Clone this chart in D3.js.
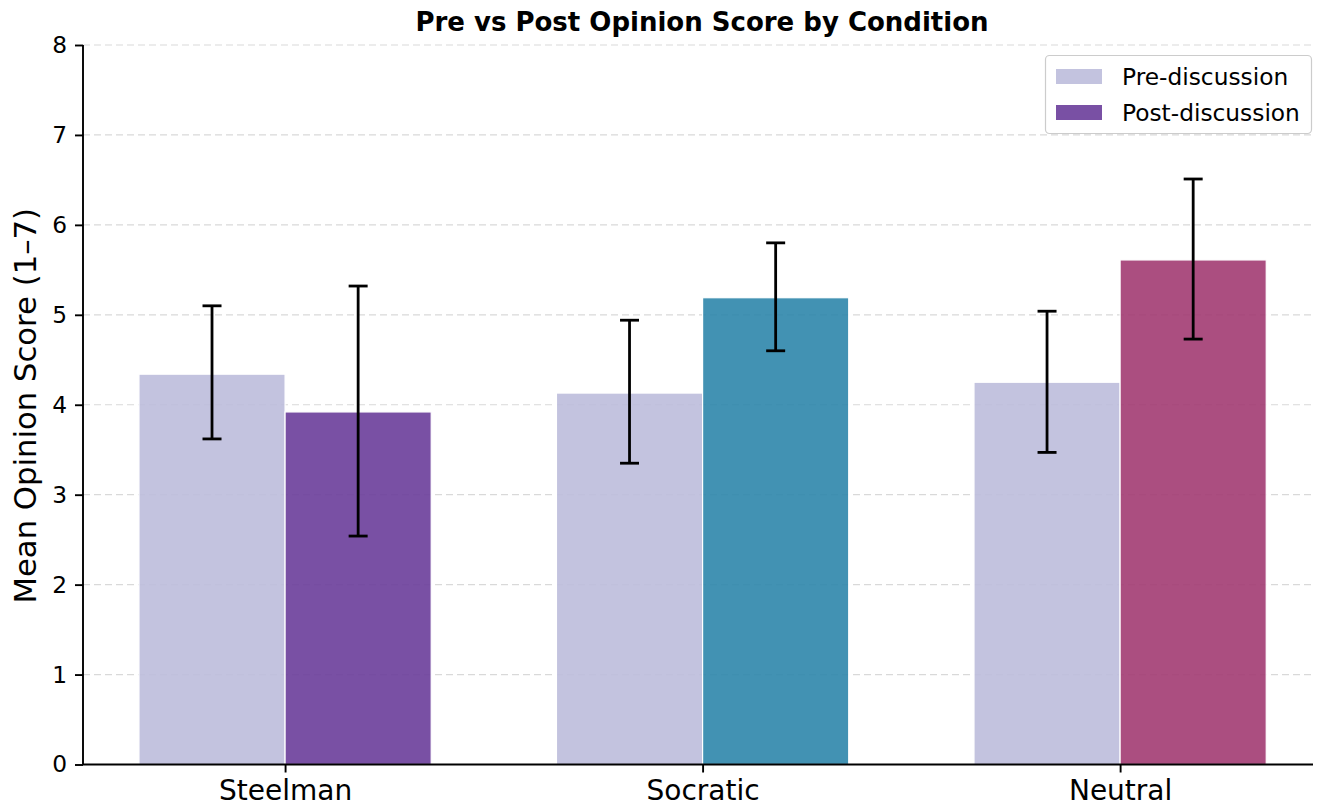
<!DOCTYPE html>
<html><head><meta charset="utf-8">
<script src="https://cdn.jsdelivr.net/npm/d3@7"></script>
<style>body{margin:0;background:#fff;} svg{display:block;font-family:"DejaVu Sans",sans-serif;}</style>
</head><body><svg id="c" width="1323" height="808"></svg>
<script>
const categories = ["Steelman", "Socratic", "Neutral"];
const preMeans = [4.34, 4.13, 4.25];
const preLow = [3.62, 3.35, 3.47];
const preHigh = [5.10, 4.94, 5.04];
const postMeans = [3.92, 5.19, 5.61];
const postLow = [2.54, 4.60, 4.73];
const postHigh = [5.32, 5.80, 6.51];
const postColors = ["#6a3d9a", "#2e86ab", "#a23b72"];
const preColor = "#bcbddc";
const yTicks = [0, 1, 2, 3, 4, 5, 6, 7, 8];
const seriesNames = ["Pre-discussion", "Post-discussion"];

const svg = d3.select("#c");
const L = 83, R = 1313, T = 45, B = 764.5;
const x = d3.scaleLinear().domain([-0.484, 2.462]).range([L, R]);
const y = d3.scaleLinear().domain([0, 8]).range([B, T]);
const bw = 0.35;

// grid
svg.append("g").selectAll("line").data(yTicks.slice(1)).join("line")
  .attr("x1", L).attr("x2", R).attr("y1", d => y(d)).attr("y2", d => y(d))
  .attr("stroke", "#d9d9d9").attr("stroke-width", 1.2).attr("stroke-dasharray", "7,4");

const bars = [];
categories.forEach((c, i) => {
  bars.push({x: i - bw/2, v: preMeans[i], lo: preLow[i], hi: preHigh[i], col: preColor});
  bars.push({x: i + bw/2, v: postMeans[i], lo: postLow[i], hi: postHigh[i], col: postColors[i]});
});

svg.append("g").selectAll("rect").data(bars).join("rect")
  .attr("x", d => x(d.x - bw/2)).attr("width", d => x(bw) - x(0))
  .attr("y", d => y(d.v)).attr("height", d => y(0) - y(d.v))
  .attr("fill", d => d.col).attr("fill-opacity", 0.9)
  .attr("stroke", "#fff").attr("stroke-width", 1.2);

// error bars
const eg = svg.append("g").attr("stroke", "#000").attr("stroke-width", 2.8);
bars.forEach(d => {
  const cx = x(d.x);
  eg.append("line").attr("x1", cx).attr("x2", cx).attr("y1", y(d.lo)).attr("y2", y(d.hi));
  eg.append("line").attr("x1", cx - 9.5).attr("x2", cx + 9.5).attr("y1", y(d.lo)).attr("y2", y(d.lo));
  eg.append("line").attr("x1", cx - 9.5).attr("x2", cx + 9.5).attr("y1", y(d.hi)).attr("y2", y(d.hi));
});

// axes
const ya = svg.append("g").attr("transform", `translate(${L},0)`)
  .call(d3.axisLeft(y).tickValues(yTicks).tickSize(8).tickPadding(8));
ya.select(".domain").attr("stroke-width", 1.9).attr("d", `M-0,${B}V${T}`);
ya.selectAll(".tick line").attr("stroke-width", 1.9);
ya.selectAll("text").attr("font-size", 23.3).attr("fill", "#000").attr("font-family", "DejaVu Sans");

const xa = svg.append("g").attr("transform", `translate(0,${B})`)
  .call(d3.axisBottom(x).tickValues([0, 1, 2]).tickFormat(i => categories[i]).tickSize(8).tickPadding(8));
xa.select(".domain").attr("stroke-width", 1.9).attr("d", `M${L},0H${R}`);
xa.selectAll(".tick line").attr("stroke-width", 1.9);
xa.selectAll("text").attr("font-size", 28).attr("fill", "#000").attr("font-family", "DejaVu Sans");

// title
svg.append("text").attr("x", (L + R) / 2 + 4).attr("y", 31).attr("text-anchor", "middle")
  .attr("font-size", 26).attr("font-weight", "bold").text("Pre vs Post Opinion Score by Condition");
svg.append("text").attr("transform", `translate(36,${(T + B) / 2 + 1}) rotate(-90)`).attr("text-anchor", "middle")
  .attr("font-size", 30.7).text("Mean Opinion Score (1–7)");

// legend
const lg = svg.append("g");
lg.append("rect").attr("x", 1045.5).attr("y", 55.5).attr("width", 266).attr("height", 78).attr("rx", 4)
  .attr("fill", "#fff").attr("fill-opacity", 0.85).attr("stroke", "#cccccc").attr("stroke-width", 1.2);
const legCols = [preColor, postColors[0]];
seriesNames.forEach((s, i) => {
  lg.append("rect").attr("x", 1056).attr("y", 69 + i * 36).attr("width", 46).attr("height", 15)
    .attr("fill", legCols[i]).attr("fill-opacity", 0.9);
  lg.append("text").attr("x", 1122).attr("y", 84.5 + i * 36).attr("font-size", 23.3).text(s);
});
</script></body></html>
